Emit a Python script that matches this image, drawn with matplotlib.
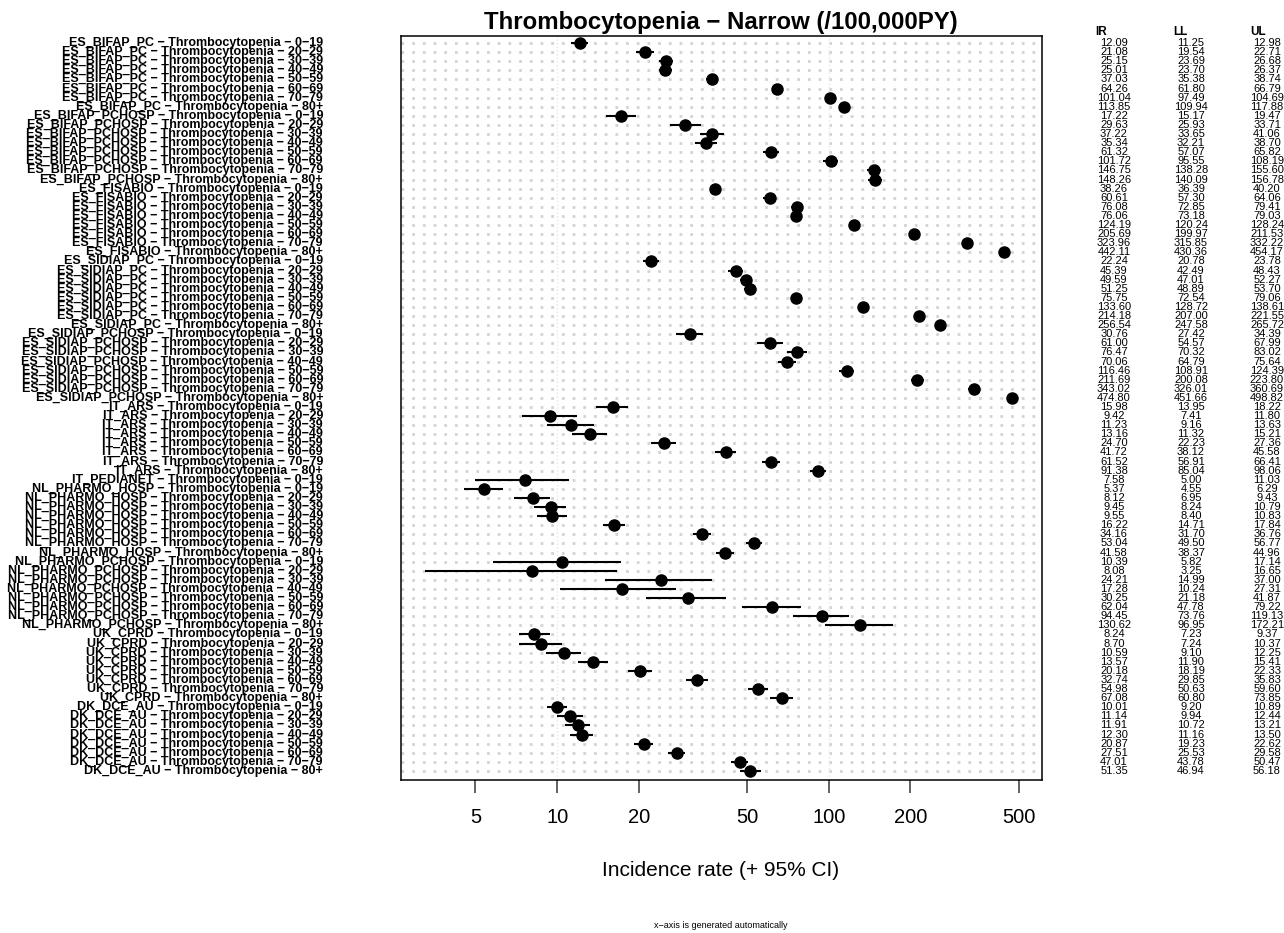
import matplotlib.pyplot as plt
import matplotlib.transforms as mtransforms
from matplotlib.ticker import NullLocator

plt.rcParams['font.family'] = ['Liberation Sans', 'DejaVu Sans']

# data sources, top to bottom
databases = ["ES_BIFAP_PC", "ES_BIFAP_PCHOSP", "ES_FISABIO", "ES_SIDIAP_PC",
             "ES_SIDIAP_PCHOSP", "IT_ARS", "IT_PEDIANET", "NL_PHARMO_HOSP",
             "NL_PHARMO_PCHOSP", "UK_CPRD", "DK_DCE_AU"]
age_groups = ["0\u221219", "20\u221229", "30\u221239", "40\u221249",
              "50\u221259", "60\u221269", "70\u221279", "80+"]

# incidence rate per 100,000 PY with 95% CI
ir = [12.09, 21.08, 25.15, 25.01, 37.03, 64.26, 101.04, 113.85,
      17.22, 29.63, 37.22, 35.34, 61.32, 101.72, 146.75, 148.26,
      38.26, 60.61, 76.08, 76.06, 124.19, 205.69, 323.96, 442.11,
      22.24, 45.39, 49.59, 51.25, 75.75, 133.60, 214.18, 256.54,
      30.76, 61.00, 76.47, 70.06, 116.46, 211.69, 343.02, 474.80,
      15.98, 9.42, 11.23, 13.16, 24.70, 41.72, 61.52, 91.38,
      7.58,
      5.37, 8.12, 9.45, 9.55, 16.22, 34.16, 53.04, 41.58,
      10.39, 8.08, 24.21, 17.28, 30.25, 62.04, 94.45, 130.62,
      8.24, 8.70, 10.59, 13.57, 20.18, 32.74, 54.98, 67.08,
      10.01, 11.14, 11.91, 12.30, 20.87, 27.51, 47.01, 51.35]
ll = [11.25, 19.54, 23.69, 23.70, 35.38, 61.80, 97.49, 109.94,
      15.17, 25.93, 33.65, 32.21, 57.07, 95.55, 138.28, 140.09,
      36.39, 57.30, 72.85, 73.18, 120.24, 199.97, 315.85, 430.36,
      20.78, 42.49, 47.01, 48.89, 72.54, 128.72, 207.00, 247.58,
      27.42, 54.57, 70.32, 64.79, 108.91, 200.08, 326.01, 451.66,
      13.95, 7.41, 9.16, 11.32, 22.23, 38.12, 56.91, 85.04,
      5.00,
      4.55, 6.95, 8.24, 8.40, 14.71, 31.70, 49.50, 38.37,
      5.82, 3.25, 14.99, 10.24, 21.18, 47.78, 73.76, 96.95,
      7.23, 7.24, 9.10, 11.90, 18.19, 29.85, 50.63, 60.80,
      9.20, 9.94, 10.72, 11.16, 19.23, 25.53, 43.78, 46.94]
ul = [12.98, 22.71, 26.68, 26.37, 38.74, 66.79, 104.69, 117.88,
      19.47, 33.71, 41.06, 38.70, 65.82, 108.19, 155.60, 156.78,
      40.20, 64.06, 79.41, 79.03, 128.24, 211.53, 332.22, 454.17,
      23.78, 48.43, 52.27, 53.70, 79.06, 138.61, 221.55, 265.72,
      34.39, 67.99, 83.02, 75.64, 124.39, 223.80, 360.69, 498.82,
      18.22, 11.80, 13.63, 15.21, 27.36, 45.58, 66.41, 98.06,
      11.03,
      6.29, 9.43, 10.79, 10.83, 17.84, 36.76, 56.77, 44.96,
      17.14, 16.65, 37.00, 27.31, 41.87, 79.22, 119.13, 172.21,
      9.37, 10.37, 12.25, 15.41, 22.33, 35.83, 59.60, 73.85,
      10.89, 12.44, 13.21, 13.50, 22.62, 29.58, 50.47, 56.18]
x_ticks = [5, 10, 20, 50, 100, 200, 500]

labels = []
for db in databases:
    ages = age_groups[:1] if db == "IT_PEDIANET" else age_groups
    for age in ages:
        labels.append(db + " \u2212 Thrombocytopenia \u2212 " + age)
rows = list(range(len(labels)))

fig = plt.figure(figsize=(12.84, 9.33), dpi=100)
ax = fig.add_axes([0.3123, 0.164, 0.4992, 0.7974])

# dotted row guides
for y in rows:
    ax.axhline(y, color='#d3d3d3', lw=2, ls=(0, (1, 2.85)), zorder=0)
for v in [10, 100]:
    ax.axvline(v, color='#e6e6e6', lw=1, ls=':', zorder=0)

ax.hlines(rows, ll, ul, color='black', lw=1.5, zorder=2)
ax.plot(ir, rows, 'o', color='black', ms=8, zorder=3)

ax.set_xscale('log')
ax.set_xlim(2.658, 610)
ax.set_ylim(len(rows) - 1 + 0.99, -0.77)
ax.set_yticks([])
ax.set_xticks(x_ticks)
ax.set_xticklabels([str(t) for t in x_ticks])
ax.xaxis.set_minor_locator(NullLocator())
ax.tick_params(axis='x', length=9.4, width=1.3, color='#555555',
               labelsize=14.5, pad=11)
for s in ax.spines.values():
    s.set_linewidth(1.1)

trans = mtransforms.blended_transform_factory(fig.transFigure, ax.transData)
for y, lab in zip(rows, labels):
    ax.text(323 / 1284, y, lab, transform=trans, ha='right', va='center',
            fontsize=9, fontweight='bold', clip_on=False)

# table of values on the right
cols = [("IR", ir, 1095, 1114), ("LL", ll, 1173, 1191), ("UL", ul, 1250, 1267)]
for name, vals, hx, cx in cols:
    ax.text(hx / 1284, -1.2, name, transform=trans, ha='left', va='center',
            fontsize=8.5, fontweight='bold', clip_on=False)
    for y, v in zip(rows, vals):
        ax.text(cx / 1284, y, f"{v:.2f}", transform=trans, ha='center',
                va='center', fontsize=8, clip_on=False)

cx_fig = 721 / 1284
fig.text(cx_fig, 1 - 22 / 933, "Thrombocytopenia \u2212 Narrow (/100,000PY)",
         ha='center', va='center', fontsize=17.3, fontweight='bold')
fig.text(cx_fig, 1 - 870 / 933, "Incidence rate (+ 95% CI)",
         ha='center', va='center', fontsize=15)
fig.text(cx_fig, 1 - 925 / 933, "x\u2212axis is generated automatically",
         ha='center', va='center', fontsize=6.5)

fig.savefig('out.png', dpi=100)
